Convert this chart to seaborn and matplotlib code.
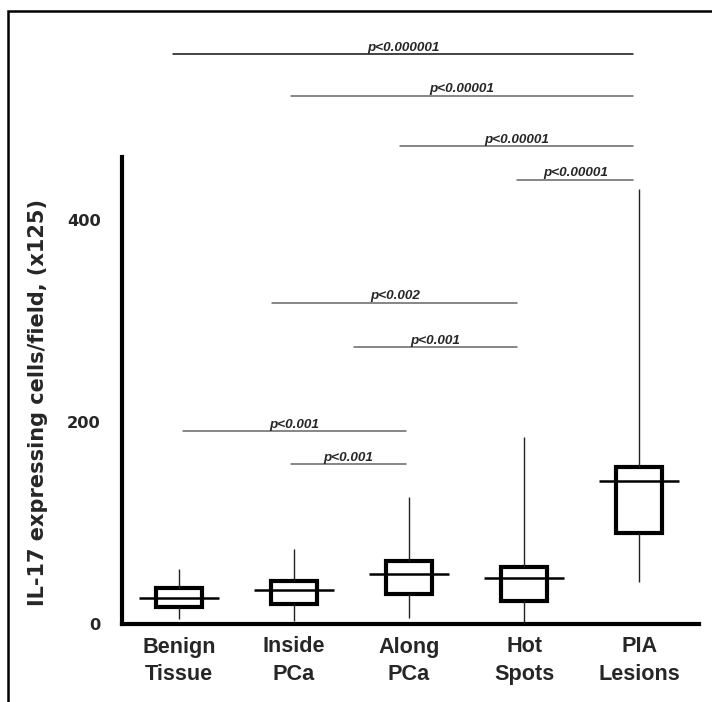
import numpy as np
import pandas as pd
import matplotlib
matplotlib.use("Agg")
import matplotlib.pyplot as plt
from matplotlib.patches import Rectangle
import seaborn as sns

# ---- data ----
groups = ["Benign\nTissue", "Inside\nPCa", "Along\nPCa", "Hot\nSpots", "PIA\nLesions"]
whisker_low = [5.3, 3.3, 6.3, 0.0, 41.3]
quart1 = [16.6, 20.1, 30.0, 23.1, 90.4]
medians = [25.7, 33.3, 49.2, 45.2, 141.9]
quart3 = [35.3, 42.3, 62.7, 56.7, 155.8]
whisker_high = [54.2, 74.0, 125.4, 185.5, 430.7]

y_ticks = [0, 200, 400]
y_label = "IL-17 expressing cells/field, (x125)"

# significance bars: start / end (category units), height, label
sig_start = [-0.05, 0.97, 1.92, 2.94, 0.81, 1.52, 0.03, 0.97]
sig_end = [3.95, 3.95, 3.95, 3.95, 2.94, 2.94, 1.97, 1.97]
sig_y = [564, 523, 473, 440, 318, 274, 191, 158]
sig_labels = ["p<0.000001", "p<0.00001", "p<0.00001", "p<0.00001",
              "p<0.002", "p<0.001", "p<0.001", "p<0.001"]

# five-number summaries -> long table (5 points give exact quartiles)
rows = []
for g, a, b, c, d, e in zip(groups, whisker_low, quart1, medians, quart3, whisker_high):
    for v in (a, b, c, d, e):
        rows.append({"group": g, "value": v})
df = pd.DataFrame(rows)

sns.set_style("white")
plt.rcParams["font.family"] = ["Liberation Sans", "DejaVu Sans"]

fig = plt.figure(figsize=(7.12, 7.02), dpi=100)
ax = fig.add_axes([122 / 712, 78 / 702, 577 / 712, 606 / 702])

sns.boxplot(data=df, x="group", y="value", order=groups, ax=ax,
            width=0.4, whis=(0, 100), color="white", linecolor="black",
            linewidth=3, showcaps=False, saturation=1,
            medianprops={"visible": False},
            whiskerprops={"linewidth": 1.0, "color": "#222222"},
            boxprops={"linewidth": 3, "edgecolor": "black", "facecolor": "white"})

# wide median bars
pos = np.arange(len(groups))
ax.hlines(medians, pos - 0.35, pos + 0.35, colors="black", linewidth=1.8, zorder=5)

# significance annotations
for i, (s, e, y, lab) in enumerate(zip(sig_start, sig_end, sig_y, sig_labels)):
    ax.plot([s, e], [y, y], color="#111111" if i == 0 else "#666666",
            linewidth=1.1, clip_on=False)
    ax.text((s + e) / 2, y + 3.5, lab, ha="center", va="baseline",
            fontsize=9.7, fontweight="bold", fontstyle="italic",
            family=["Liberation Sans", "DejaVu Sans"])

ax.set_xlim(-0.496, 4.52)
ax.set_ylim(0, 600)
ax.set_yticks(y_ticks)
ax.set_yticklabels([str(t) for t in y_ticks], fontsize=11.7, fontweight="bold",
                   family=["DejaVu Sans"])
ax.tick_params(axis="y", direction="out", length=7.2, width=2.9, pad=8, color="black")
ax.tick_params(axis="x", length=0, pad=9)
for lab in ax.get_xticklabels():
    lab.set_fontsize(15.6)
    lab.set_fontweight("bold")
    lab.set_linespacing(1.42)
    lab.set_family(["Liberation Sans", "DejaVu Sans"])

ax.set_xlabel("")
ax.set_ylabel(y_label, fontsize=15, fontweight="bold", family=["DejaVu Sans"])
ax.yaxis.label.set_verticalalignment("center")
ax.yaxis.set_label_coords(-0.146, 0.366)

sns.despine(ax=ax)
ax.spines["left"].set_bounds(0, 462)
ax.spines["left"].set_linewidth(3)
ax.spines["bottom"].set_linewidth(3)
ax.spines["left"].set_color("black")
ax.spines["bottom"].set_color("black")

# outer frame (partly cropped at the right and bottom in the reference)
fig.patches.append(Rectangle((8 / 712, -0.2), 1.3, (702 - 11) / 702 + 0.2,
                             transform=fig.transFigure, fill=False,
                             edgecolor="black", linewidth=1.8))

fig.savefig("out.png", dpi=100)
